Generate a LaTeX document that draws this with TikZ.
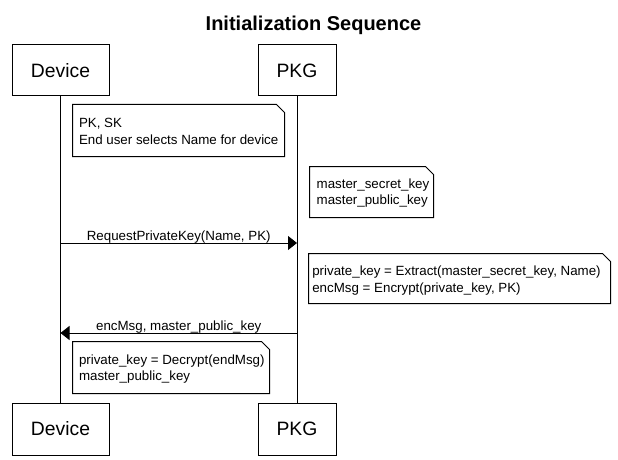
\documentclass[tikz,border=0pt]{standalone}
\usepackage{fontspec}
\setmainfont{Liberation Sans}
\usetikzlibrary{arrows.meta}
\newcommand\drawnotebox[1]{\draw (#1.north west) -- ([xshift=-6pt]#1.north east) -- ([yshift=-6pt]#1.north east) -- (#1.south east) -- (#1.south west) -- cycle;}
\begin{document}
\begin{tikzpicture}[x=0.75pt,y=-0.75pt,line width=0.75pt,
  actor/.style={draw,inner sep=0pt,font=\fontsize{14.5}{17}\selectfont},
  notebox/.style={inner sep=0pt,minimum width=#1},
  notetext/.style={anchor=west,inner sep=0pt,align=left,font=\fontsize{10}{12.4}\selectfont},
  msglabel/.style={midway,anchor=base,inner sep=0pt,yshift=2pt,font=\fontsize{10}{12}\selectfont},
  msg/.style={-{Triangle[length=6.75pt,width=10.5pt]}}]
\useasboundingbox (0,0) rectangle (618,460);
\node[anchor=base,font=\bfseries\fontsize{15}{18}\selectfont] (title) at (313.5,31) {Initialization Sequence};
% actors
\node[actor,minimum width=72.75pt,minimum height=38.25pt] (devtop) at (60.5,70.5) {Device};
\node[actor,minimum width=58.5pt,minimum height=38.25pt] (pkgtop) at (297,70.5) {PKG};
\node[actor,minimum width=72.75pt,minimum height=39pt] (devbot) at (60.5,429) {Device};
\node[actor,minimum width=58.5pt,minimum height=39pt] (pkgbot) at (297,429) {PKG};
\draw (devtop.south) -- (devbot.north);
\draw (pkgtop.south) -- (pkgbot.north);
% note 1
\node[notebox=158.25pt,minimum height=38.25pt] (n1) at (178.5,130.5) {};
\drawnotebox{n1}
\node[notetext] (n1t) at ([xshift=4.5pt,yshift=-0.8pt]n1.west) {PK, SK\\End user selects Name for device};
% note 2
\node[notebox=92.25pt,minimum height=37.5pt] (n2) at (371.5,192) {};
\drawnotebox{n2}
\node[notetext] (n2t) at ([xshift=5pt,yshift=-0.8pt]n2.west) {master\_secret\_key\\master\_public\_key};
% message 1
\coordinate (m1a) at (60.5,243);
\coordinate (m1b) at (297,243);
\draw[msg] (m1a) -- (m1b) node[msglabel] (m1l) {RequestPrivateKey(Name, PK)};
% note 3
\node[notebox=225.75pt,minimum height=36.75pt] (n3) at (459.5,278.5) {};
\drawnotebox{n3}
\node[notetext] (n3t) at ([xshift=2.5pt,yshift=-1.5pt]n3.west) {private\_key = Extract(master\_secret\_key, Name)\\encMsg = Encrypt(private\_key, PK)};
% message 2
\coordinate (m2a) at (297,333);
\coordinate (m2b) at (60.5,333);
\draw[msg] (m2a) -- (m2b) node[msglabel] (m2l) {encMsg, master\_public\_key};
% note 4
\node[notebox=147pt,minimum height=38.25pt] (n4) at (171,367.5) {};
\drawnotebox{n4}
\node[notetext] (n4t) at ([xshift=4.5pt,yshift=-1.2pt]n4.west) {private\_key = Decrypt(endMsg)\\master\_public\_key};
\end{tikzpicture}
\end{document}
